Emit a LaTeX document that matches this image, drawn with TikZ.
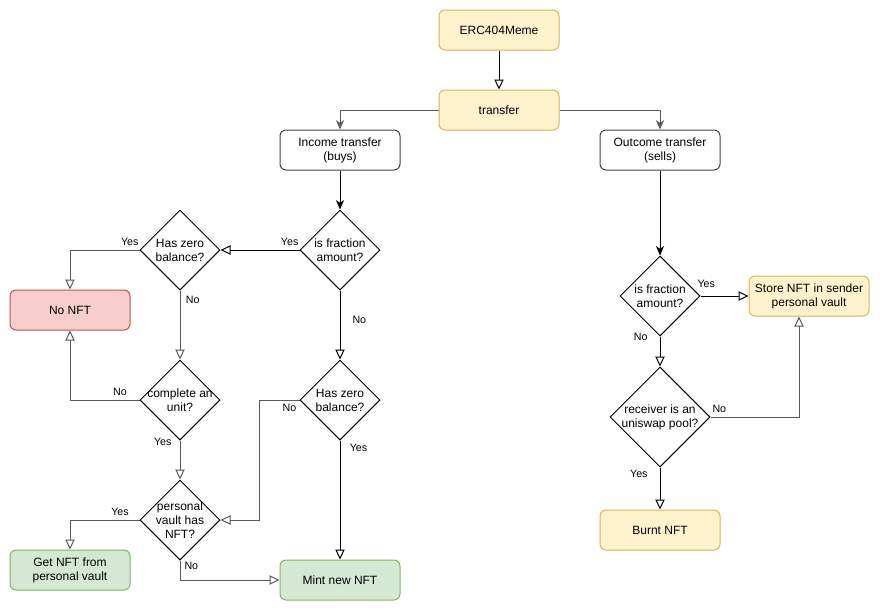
\documentclass[tikz,border=0pt]{standalone}
\usepackage{fontspec}
\setmainfont{Liberation Sans}
\usetikzlibrary{shapes.geometric,arrows.meta}
\definecolor{ylwfill}{HTML}{FFF2CC}
\definecolor{ylwline}{HTML}{D6B656}
\definecolor{redfill}{HTML}{F8CECC}
\definecolor{redline}{HTML}{B85450}
\definecolor{grnfill}{HTML}{D5E8D4}
\definecolor{grnline}{HTML}{82B366}
\definecolor{edgegray}{HTML}{5A5A5A}
\begin{document}
\begin{tikzpicture}[x=0.75pt, y=-0.75pt, line width=0.75pt,
  every node/.style={font=\fontsize{9}{10.5}\selectfont},
  box/.style={draw=black!75, rounded corners=4.5pt, minimum width=90pt, minimum height=30pt, align=center, inner sep=1pt},
  ylwbox/.style={box, draw=ylwline, fill=ylwfill},
  redbox/.style={box, draw=redline, fill=redfill},
  grnbox/.style={box, draw=grnline, fill=grnfill},
  decision/.style={diamond, draw, minimum width=60pt, minimum height=60pt, inner sep=0pt},
  dtext/.style={align=center, inner sep=0pt},
  lbl/.style={font=\fontsize{8}{9}\selectfont, inner sep=1pt},
  openarr/.style={-{Triangle[open, length=7.5pt, width=7pt]}},
  fillarr/.style={-{Stealth[length=7pt, width=6pt, inset=2pt]}},
  gl/.style={draw=edgegray}]
  \useasboundingbox (0,0) rectangle (880,611);

  % top
  \node[ylwbox] (erc) at (499,30) {ERC404Meme};
  \node[ylwbox] (tr) at (499,110) {transfer};
  \node[box] (inc) at (340,150) {Income transfer\\(buys)};
  \node[box] (outc) at (660,150) {Outcome transfer\\(sells)};

  % income side
  \node[decision, label={[dtext]center:is fraction\\amount?}] (fracA) at (340,250) {};
  \node[decision, label={[dtext]center:Has zero\\balance?}] (zeroA) at (180,250) {};
  \node[redbox] (nonft) at (70,310) {No NFT};
  \node[decision, label={[dtext]center:complete an\\unit?}] (unit) at (180,400) {};
  \node[decision, label={[dtext]center:Has zero\\balance?}] (zeroB) at (340,400) {};
  \node[decision, label={[dtext]center:personal\\vault has\\NFT?}] (vault) at (180,520) {};
  \node[grnbox] (getnft) at (70,570) {Get NFT from\\personal vault};
  \node[grnbox] (mint) at (340,580) {Mint new NFT};

  % outcome side
  \node[decision, label={[dtext]center:is fraction\\amount?}] (fracB) at (660,296) {};
  \node[ylwbox] (store) at (809,296) {Store NFT in sender\\personal vault};
  \node[decision, minimum width=75pt, minimum height=75pt, label={[dtext]center:receiver is an\\uniswap pool?}] (uni) at (660,417) {};
  \node[ylwbox] (burnt) at (660,530) {Burnt NFT};

  \draw[openarr] (erc) -- (tr);
  \draw[fillarr, gl] (tr.west) -| (inc);
  \draw[fillarr, gl] (tr.east) -| (outc);
  \draw[fillarr] (inc) -- (fracA);
  \draw[fillarr] (outc) -- (fracB);

  \draw[openarr] (fracA) -- node[lbl, pos=0.125, above=2pt] {Yes} (zeroA);
  \draw[openarr, gl] (zeroA.west) -| node[lbl, pos=0.07, above=2pt] {Yes} (nonft);
  \draw[openarr, gl] (zeroA) -- node[lbl, pos=0.14, right=3pt] {No} (unit);
  \draw[openarr] (fracA) -- node[lbl, pos=0.43, right=8pt] {No} (zeroB);
  \draw[openarr, gl] (unit.west) -| node[lbl, pos=0.14, above=2pt] {No} (nonft);
  \draw[openarr, gl] (unit) -- node[lbl, pos=0.03, left=5pt] {Yes} (vault);
  \draw[openarr, gl] (zeroB.west) -- node[lbl, pos=0.25, below=2pt] {No} ++(-40,0) |- (vault.east);
  \draw[openarr] (zeroB) -- node[lbl, pos=0.06, right=6pt] {Yes} (mint);
  \draw[openarr, gl] (vault.west) -| node[lbl, pos=0.14, above=2pt] {Yes} (getnft);
  \draw[openarr, gl] (vault.south) |- node[lbl, pos=0.15, right=2pt] {No} (mint.west);

  \draw[openarr] (fracB) -- node[lbl, pos=0.12, above=5pt] {Yes} (store);
  \draw[openarr] (fracB) -- node[lbl, pos=0.02, left=8pt] {No} (uni);
  \draw[openarr, gl] (uni.east) -| node[lbl, pos=0.05, above=2pt] {No} ([xshift=-7.5pt]store.south);
  \draw[openarr] (uni) -- node[lbl, pos=0.14, left=8pt] {Yes} (burnt);
\end{tikzpicture}
\end{document}
